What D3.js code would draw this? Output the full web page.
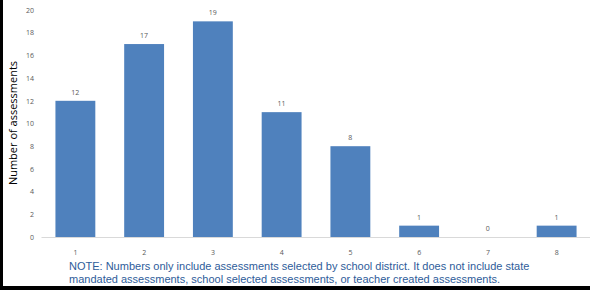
<!DOCTYPE html>
<html>
<head>
<meta charset="utf-8">
<script src="https://cdn.jsdelivr.net/npm/d3@7"></script>
<style>
	body { margin: 0; background: #fff; }
	svg { display: block; }
	.tick text { font-family: "Open Sans", sans-serif; font-size: 7px; fill: #595959; }
</style>
</head>
<body>
<div id="chart"></div>
<script>
const categories = ["1", "2", "3", "4", "5", "6", "7", "8"];
const counts = [12, 17, 19, 11, 8, 1, 0, 1];
const yTicks = [0, 2, 4, 6, 8, 10, 12, 14, 16, 18, 20];
const noteLines = [
	"NOTE: Numbers only include assessments selected by school district. It does not include state",
	"mandated assessments, school selected assessments, or teacher created assessments."
];

const W = 590, H = 290;
const svg = d3.select("#chart").append("svg")
	.attr("width", W).attr("height", H);

// set the ranges
const x = d3.scaleBand().domain(categories).range([41, 591]).paddingInner(0.42).paddingOuter(0.21);
const y = d3.scaleLinear().domain([0, 20]).range([237, 10]);

// y axis labels
svg.append("g")
	.attr("transform", "translate(41,0)")
	.call(d3.axisLeft(y).tickValues(yTicks).tickSize(0).tickPadding(7))
	.call(g => g.select(".domain").remove());

// bars
svg.selectAll(".bar")
	.data(counts)
	.enter().append("rect")
	.attr("class", "bar")
	.attr("x", (d, i) => x(categories[i]))
	.attr("width", x.bandwidth())
	.attr("y", d => y(d))
	.attr("height", d => y(0) - y(d))
	.attr("fill", "#4f81bd");

// baseline + x labels
svg.append("g")
	.attr("transform", "translate(0," + y(0) + ")")
	.call(d3.axisBottom(x).tickSize(0).tickPadding(13))
	.call(g => g.select(".domain").attr("stroke", "#d9d9d9").attr("stroke-width", 1.2));

// data labels
svg.selectAll(".lbl")
	.data(counts)
	.enter().append("text")
	.attr("x", (d, i) => x(categories[i]) + x.bandwidth() / 2)
	.attr("y", d => y(d) - 6)
	.attr("text-anchor", "middle")
	.attr("font-family", "Open Sans, sans-serif")
	.attr("font-size", 7)
	.attr("fill", "#595959")
	.text(d => d);

// y axis title
svg.append("text")
	.attr("transform", "translate(17,123) rotate(-90)")
	.attr("text-anchor", "middle")
	.attr("font-family", "Open Sans, sans-serif")
	.attr("font-size", 11)
	.attr("fill", "#000")
	.text("Number of assessments");

// note
svg.selectAll(".note")
	.data(noteLines)
	.enter().append("text")
	.attr("x", 69)
	.attr("y", (d, i) => 270 + i * 13)
	.attr("font-family", "Liberation Sans, Arial, sans-serif")
	.attr("font-size", 11)
	.attr("fill", "#2e5c9a")
	.text(d => d);

// frame
svg.append("rect").attr("x", 0).attr("y", 0).attr("width", 3).attr("height", H).attr("fill", "#000");
svg.append("rect").attr("x", 0).attr("y", 286).attr("width", W).attr("height", 4).attr("fill", "#000");
</script>
</body>
</html>
